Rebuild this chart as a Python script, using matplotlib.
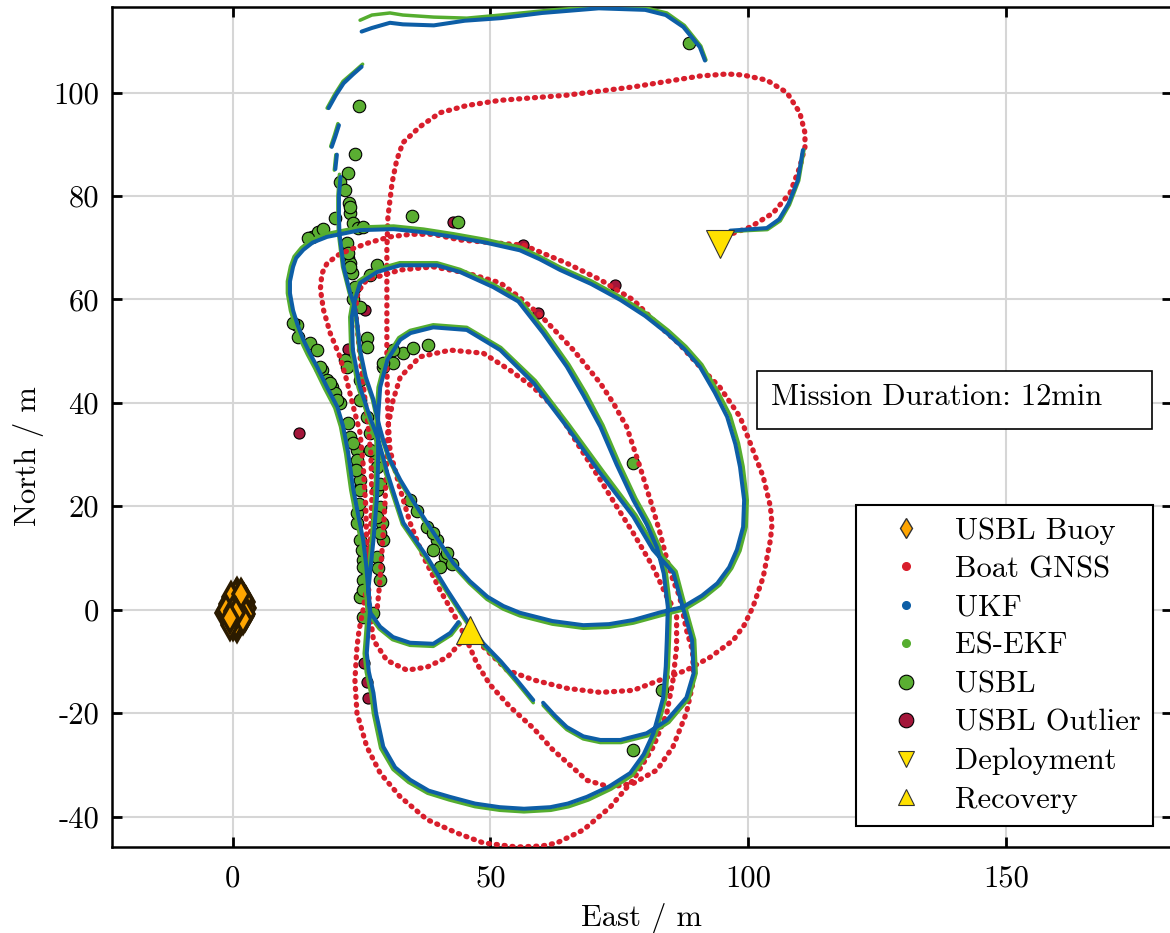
import numpy as np
import matplotlib as mpl
import matplotlib.pyplot as plt
from matplotlib.lines import Line2D
from matplotlib.patches import Rectangle

mpl.rcParams["font.family"] = "serif"
mpl.rcParams["font.serif"] = ["cmr10"]
mpl.rcParams["mathtext.fontset"] = "cm"
mpl.rcParams["axes.unicode_minus"] = False
mpl.rcParams["axes.formatter.use_mathtext"] = False

# ---- data (East, North) in metres ----
buoy_east = [0.9, 1.8, 2.5, 1.2, -0.4, 2.1, 2.8, 0.5, -1.0, 1.5, 0.0, 2.4, 1.0, -1.6,
             0.3, 2.2, 0.8, -0.7, 0.2, 1.6, -1.2, 1.3, 0.6, -0.2, 1.9, 0.4, -0.9, 2.6,
             1.1, -0.3, 0.7, 1.7, -1.4, 0.1, 2.0, -0.6, 0.6, -0.5]
buoy_north = [3.3, 2.6, 1.4, 0.9, 1.9, -0.3, 0.4, -1.2, 0.3, -2.0, -3.0, -1.2, 2.5, -0.6,
              0.8, 2.1, -3.4, -1.8, -2.5, 0.1, -1.3, 1.6, 2.9, -1.0, 0.6, 1.2, 1.0, -0.8,
              -0.4, 2.4, -2.6, 3.0, 0.0, -0.2, -1.9, -2.9, -0.7, -1.6]

gnss_a = [(97.1, 72.8), (100.4, 74.0), (104.8, 76.7), (108.1, 80.6), (110.0, 85.6), (111.0, 89.5),
          (111.0, 92.2), (110.0, 96.1), (107.5, 100.0), (103.6, 102.4), (99.0, 103.4), (95.9, 103.6),
          (90.6, 103.2), (77.7, 101.1), (64.8, 99.5), (57.0, 98.9), (51.8, 98.5), (45.4, 97.5),
          (40.2, 96.1), (36.3, 93.4), (33.0, 90.3), (31.8, 86.9), (30.9, 82.5), (30.1, 75.9),
          (29.9, 69.6), (29.9, 59.9), (29.9, 46.9), (30.1, 37.3), (30.5, 31.0), (31.1, 28.5),
          (32.5, 23.2), (34.4, 16.8), (37.0, 10.2), (40.2, 3.8), (43.5, -2.0), (45.4, -5.9),
          (47.4, -10.5), (49.9, -14.5), (53.8, -18.8), (58.4, -23.0), (62.0, -27.0), (64.8, -29.5),
          (68.7, -33.0), (73.2, -34.3), (77.7, -33.6), (82.3, -31.0), (85.4, -26.5), (88.0, -20.0),
          (89.4, -13.6), (89.2, -8.0), (88.0, -3.9), (86.7, 2.5), (85.4, 5.7), (84.4, 9.0),
          (82.9, 14.8), (81.0, 21.2), (79.0, 27.6), (76.4, 35.4), (73.8, 40.0), (71.3, 43.8),
          (66.1, 50.2), (62.5, 54.0), (59.6, 57.0), (55.5, 60.5), (51.9, 63.2), (45.4, 65.1),
          (38.9, 66.3), (32.5, 65.7), (28.5, 64.5), (26.0, 63.8), (24.3, 61.5), (23.8, 58.0),
          (24.2, 54.0), (24.8, 48.0), (25.5, 42.0), (26.2, 36.0), (26.8, 30.0), (27.0, 22.0),
          (26.7, 14.0), (26.2, 6.0), (25.3, 0.0), (24.5, -4.0), (24.1, -7.2), (23.7, -13.6),
          (24.1, -20.0), (26.0, -26.5), (28.6, -31.6), (32.5, -36.2), (37.7, -40.6), (43.5, -43.2),
          (48.6, -45.1), (55.1, -45.9), (60.0, -45.7), (62.9, -45.1), (68.0, -42.6), (73.2, -38.2),
          (77.7, -32.9), (81.6, -26.5), (84.2, -20.0), (85.4, -13.6), (86.1, -7.2), (86.1, -0.6),
          (84.2, 2.5), (81.5, 8.3), (77.7, 14.8), (74.5, 19.9), (71.3, 25.1), (66.8, 32.2),
          (62.9, 38.6), (58.3, 43.0), (53.8, 46.3), (48.6, 49.6), (42.2, 50.2), (36.3, 48.9),
          (32.5, 45.0), (31.1, 40.5), (30.1, 35.3), (29.9, 29.0), (29.5, 20.0), (29.0, 12.0),
          (28.5, 5.0), (28.0, 0.0)]
gnss_b = [(47.0, -5.5), (44.1, -6.5), (41.6, -9.2), (37.7, -11.1), (33.8, -11.7), (29.9, -9.8),
          (27.3, -5.9), (26.6, -0.6), (26.3, 5.0), (26.0, 12.0), (25.8, 20.0), (25.3, 28.0),
          (24.7, 34.2), (23.4, 39.2), (22.1, 44.4), (20.8, 48.9), (18.9, 53.5), (17.6, 58.0),
          (17.0, 62.0), (17.3, 65.0), (18.3, 67.0), (20.5, 68.6), (22.7, 69.6), (26.5, 71.0),
          (30.5, 72.1), (34.5, 72.6), (38.9, 72.6), (44.1, 71.5), (50.0, 71.0), (56.4, 70.5),
          (60.5, 68.8), (64.8, 67.0), (71.3, 63.8), (77.7, 59.9), (82.9, 54.7), (86.5, 51.5),
          (90.6, 47.0), (94.5, 43.0), (98.4, 37.3), (100.9, 30.9), (102.9, 25.7), (104.3, 19.9),
          (104.6, 16.5), (104.3, 13.5), (102.9, 6.3), (100.9, 0.5), (99.2, -3.0), (97.1, -5.9),
          (92.6, -9.2), (88.0, -11.7), (82.9, -13.6), (77.7, -15.6), (71.3, -16.0), (64.8, -15.2),
          (58.4, -13.6), (53.2, -11.7), (51.9, -10.4), (48.6, -7.2), (47.0, -5.5)]

ukf_deploy = [(96.5, 73.3), (99.5, 73.5), (103.6, 73.8), (106.0, 75.5), (107.8, 78.5),
              (109.6, 83.0), (110.6, 88.9)]
ukf_top = [(91.6, 106.2), (90.6, 108.8), (87.4, 112.7), (84.0, 115.0), (80.0, 116.0), (71.0, 116.3),
           (60.0, 115.4), (52.0, 114.4), (45.0, 113.9), (39.0, 113.0), (33.0, 113.2), (30.5, 113.5),
           (27.0, 112.5), (25.0, 111.8)]
ukf_dash1 = [(25.0, 105.0), (23.3, 103.5), (21.5, 101.8), (20.0, 99.5), (18.6, 97.0)]
ukf_dash2 = [(20.6, 93.7), (19.9, 91.5), (19.2, 89.5)]
ukf_dash3 = [(20.2, 88.0), (19.9, 85.2)]
ukf_main = [(20.9, 83.7), (20.6, 80.0), (20.6, 76.0), (20.7, 72.8), (21.5, 66.3), (22.8, 61.2),
            (23.7, 58.6), (24.2, 55.0), (24.7, 50.2), (25.8, 45.0), (27.3, 40.6), (28.3, 36.0),
            (29.2, 32.8), (30.5, 29.0), (32.5, 25.1), (35.0, 21.0), (37.7, 16.8), (40.3, 12.8),
            (42.8, 9.0), (46.0, 5.5), (49.4, 2.5), (52.5, 0.7), (55.7, -0.6), (62.0, -2.2),
            (68.0, -3.0), (73.0, -2.8), (77.7, -2.0), (83.0, -0.5), (87.3, 0.5), (91.0, 2.7),
            (94.0, 5.1), (96.3, 8.2), (97.8, 11.6), (99.0, 16.0), (99.2, 21.2), (98.4, 27.6),
            (97.5, 32.0), (95.9, 37.3), (93.5, 42.0), (90.6, 47.0), (87.5, 50.5), (84.2, 53.5),
            (80.0, 56.8), (75.2, 59.9), (69.5, 63.0), (63.5, 65.7), (59.5, 67.8), (55.7, 69.5),
            (49.0, 71.0), (42.8, 72.1), (37.0, 73.0), (31.2, 73.6), (24.7, 73.4), (18.3, 72.1),
            (15.5, 71.0), (13.7, 69.6), (12.3, 68.0), (11.7, 66.3), (11.1, 63.5), (11.1, 61.2),
            (11.7, 57.9), (12.6, 55.0), (13.7, 52.2), (15.0, 49.5), (16.4, 46.9), (18.3, 43.0),
            (20.3, 39.2), (21.4, 35.5), (22.4, 30.3), (23.4, 23.2), (24.4, 18.0), (25.3, 13.5),
            (25.9, 8.5), (26.3, 3.8), (26.6, -0.6), (26.3, -4.5), (26.0, -8.4), (26.4, -12.0),
            (27.3, -16.1), (27.8, -20.0), (29.2, -26.5), (31.5, -30.5), (34.4, -32.9), (38.0, -35.0),
            (42.1, -36.2), (47.0, -37.5), (51.8, -38.2), (56.5, -38.5), (61.6, -38.2), (65.0, -37.5),
            (68.7, -36.2), (73.0, -34.2), (77.1, -31.6), (79.7, -28.0), (81.6, -23.9), (83.5, -17.0),
            (84.0, -11.0), (84.2, -5.9), (84.4, 0.5), (83.6, 7.0), (82.3, 12.0), (80.3, 16.5),
            (77.7, 21.2), (74.5, 28.0), (71.3, 35.4), (68.0, 41.5), (64.8, 47.0), (60.2, 53.5),
            (55.4, 59.6), (50.5, 62.4), (44.1, 65.3), (39.6, 66.6), (32.5, 66.6), (28.0, 65.3),
            (24.7, 63.2), (23.7, 59.9), (23.1, 56.6), (23.3, 50.2), (24.7, 43.0), (26.6, 37.3),
            (28.2, 33.0), (30.0, 26.4), (33.1, 16.8), (37.7, 10.2), (41.6, 3.8), (45.4, -2.0),
            (48.6, -6.5), (52.0, -10.0), (55.1, -13.6), (58.3, -17.5)]
ukf_end = [(60.2, -18.0), (62.5, -20.5), (64.8, -22.7), (68.0, -24.5), (71.3, -25.2), (75.2, -25.2),
           (80.3, -23.9), (84.2, -21.4), (88.0, -17.0), (89.4, -12.3), (89.1, -5.9), (86.9, 1.9),
           (85.5, 7.1), (81.5, 11.6), (77.7, 18.0), (71.3, 26.4), (64.8, 35.4), (58.4, 43.8),
           (51.9, 50.2), (45.4, 54.1), (38.9, 54.6), (34.5, 53.5), (32.5, 52.2), (30.0, 48.3),
           (28.6, 43.0), (28.2, 37.3), (28.2, 29.0), (28.0, 22.0), (27.3, 13.5), (26.3, 3.8),
           (26.7, -0.6), (28.6, -3.3), (31.1, -5.3), (34.4, -6.4), (38.9, -6.6), (42.2, -4.5),
           (43.8, -2.4)]

ekf_deploy = [(96.5, 73.1), (99.5, 73.3), (103.7, 73.5), (106.2, 75.2), (108.0, 78.3),
              (109.8, 83.0), (110.8, 88.9)]
ekf_top = [(91.8, 106.3), (90.8, 109.0), (87.6, 113.0), (84.2, 115.4), (80.0, 116.4), (71.0, 116.6),
           (62.0, 116.0), (56.0, 115.4), (52.0, 115.0), (45.4, 114.4), (39.0, 114.6), (33.0, 115.0),
           (30.5, 115.4), (27.0, 115.0), (24.7, 114.0)]
ekf_dash1 = [(25.2, 105.5), (23.5, 104.0), (21.4, 102.2), (19.8, 99.7), (18.3, 97.0)]
ekf_dash2 = [(20.4, 94.0), (19.7, 91.7), (19.0, 89.6)]
ekf_dash3 = [(20.0, 88.0), (19.7, 85.0)]
ekf_main = [(20.7, 84.2), (20.4, 80.0), (20.4, 76.0), (20.5, 72.8), (21.3, 66.3), (22.6, 61.2),
            (23.5, 58.6), (24.0, 55.0), (24.5, 50.2), (25.6, 45.0), (27.1, 40.6), (28.1, 36.0),
            (29.0, 32.8), (30.3, 29.0), (32.4, 24.8), (34.9, 20.6), (37.6, 16.4), (40.2, 12.4),
            (42.7, 8.6), (45.9, 5.1), (49.3, 2.0), (52.5, 0.1), (55.7, -1.2), (62.0, -2.8),
            (68.0, -3.6), (73.0, -3.4), (77.7, -2.6), (83.2, -1.1), (87.6, 0.0), (91.4, 2.3),
            (94.5, 4.8), (96.8, 8.0), (98.4, 11.4), (99.6, 16.0), (99.8, 21.2), (99.0, 27.7),
            (98.1, 32.2), (96.5, 37.6), (94.0, 42.4), (91.0, 47.4), (87.9, 50.9), (84.5, 54.0),
            (80.3, 57.3), (75.4, 60.4), (69.7, 63.5), (63.6, 66.2), (59.6, 68.3), (55.8, 70.1),
            (49.0, 71.6), (42.8, 72.7), (37.0, 73.6), (31.2, 74.2), (24.7, 74.0), (18.1, 72.7),
            (15.2, 71.5), (13.3, 70.0), (11.9, 68.3), (11.2, 66.4), (10.6, 63.5), (10.6, 61.2),
            (11.2, 57.8), (12.1, 54.9), (13.2, 52.0), (14.5, 49.3), (15.9, 46.7), (17.8, 42.8),
            (19.8, 39.0), (20.9, 35.4), (21.9, 30.2), (22.9, 23.1), (23.9, 17.9), (24.8, 13.4),
            (25.4, 8.4), (25.8, 3.7), (26.1, -0.7), (25.8, -4.6), (25.5, -8.5), (25.9, -12.1),
            (26.8, -16.3), (27.3, -20.2), (28.7, -26.8), (31.1, -30.9), (34.1, -33.4), (37.8, -35.5),
            (42.0, -36.8), (47.0, -38.1), (51.8, -38.8), (56.5, -39.1), (61.7, -38.8), (65.2, -38.1),
            (69.0, -36.8), (73.4, -34.7), (77.6, -32.0), (80.2, -28.3), (82.1, -24.1), (84.0, -17.1),
            (84.5, -11.0), (84.7, -5.9), (84.9, 0.5), (84.1, 7.1), (82.8, 12.2), (80.8, 16.8),
            (78.2, 21.5), (75.0, 28.3), (71.8, 35.7), (68.5, 41.9), (65.2, 47.4), (60.6, 53.9),
            (55.6, 60.1), (50.6, 62.9), (44.1, 65.8), (39.6, 67.1), (32.4, 67.1), (27.8, 65.8),
            (24.4, 63.6), (23.3, 60.1), (22.7, 56.6), (22.9, 50.2), (24.3, 43.0), (26.2, 37.3),
            (27.8, 33.0), (29.7, 26.2), (32.9, 16.5), (37.5, 9.8), (41.5, 3.4), (45.3, -2.4),
            (48.6, -7.0), (52.0, -10.5), (55.1, -14.1), (58.3, -18.0)]
ekf_end = [(60.2, -18.5), (62.5, -21.0), (64.8, -23.2), (68.0, -25.0), (71.3, -25.7), (75.3, -25.7),
           (80.5, -24.4), (84.6, -21.8), (88.5, -17.2), (89.9, -12.3), (89.6, -5.8), (87.4, 2.1),
           (86.0, 7.4), (82.0, 11.9), (78.2, 18.3), (71.8, 26.8), (65.2, 35.8), (58.7, 44.3),
           (52.0, 50.7), (45.4, 54.6), (38.9, 55.1), (34.4, 54.0), (32.2, 52.6), (29.6, 48.5),
           (28.2, 43.0), (27.8, 37.3), (27.8, 29.0), (27.6, 22.0), (26.9, 13.5), (25.9, 3.8),
           (26.3, -0.9), (28.4, -3.7), (31.0, -5.8), (34.4, -6.9), (38.9, -7.1), (42.4, -4.9),
           (44.1, -2.7)]

usbl = [(88.5, 109.6), (24.5, 97.4), (23.7, 88.2), (22.4, 84.5), (20.8, 82.7), (21.8, 81.2),
        (22.6, 78.6), (22.7, 76.7), (19.8, 75.7), (23.3, 74.8), (24.3, 73.9), (25.3, 74.0),
        (15.4, 72.1), (16.5, 73.0), (17.5, 73.6), (14.6, 71.8), (22.4, 68.0), (28.0, 66.6),
        (22.7, 67.1), (23.1, 65.1), (23.7, 62.4), (23.3, 60.0), (12.5, 55.1), (34.8, 76.1),
        (43.7, 75.0), (22.7, 77.9), (22.1, 70.9), (22.4, 69.0), (22.7, 66.3), (26.6, 64.7),
        (24.7, 58.5), (12.7, 52.8), (15.0, 51.6), (16.3, 50.2), (21.8, 48.3), (22.1, 46.9),
        (26.0, 52.6), (26.0, 50.8), (29.2, 46.9), (31.1, 47.7), (33.0, 49.7), (35.0, 50.6),
        (37.9, 51.2), (17.3, 46.4), (18.3, 44.4), (19.3, 43.0), (20.8, 39.9), (19.8, 41.9),
        (22.4, 36.1), (22.7, 33.4), (24.7, 44.4), (24.7, 40.5), (26.0, 37.3), (26.6, 34.2),
        (24.1, 30.9), (27.6, 30.3), (23.3, 32.2), (24.1, 29.0), (24.7, 25.1), (24.1, 16.8),
        (24.7, 13.5), (25.3, 9.6), (25.3, 5.7), (24.7, 2.5), (25.3, -1.4), (27.2, -0.6),
        (28.0, 23.2), (28.6, 19.9), (29.0, 16.8), (29.2, 13.5), (28.0, 10.2), (28.6, 5.7),
        (34.4, 21.2), (37.7, 16.0), (39.6, 13.5), (41.2, 10.2), (40.2, 8.3), (38.9, 11.5),
        (26.6, 30.9), (28.0, 27.6), (83.3, -15.6), (77.7, -27.1), (77.7, 28.4), (11.7, 55.4),
        (17.0, 46.9), (18.9, 43.8), (20.2, 40.5), (24.7, 23.2), (24.1, 18.6), (25.3, 8.3),
        (25.3, 3.8), (28.6, 24.4), (28.0, 18.0), (28.6, 14.8), (41.6, 10.9), (38.9, 14.8),
        (31.1, 50.2), (29.2, 47.7), (24.5, 20.5), (25.0, 11.5), (28.2, 8.0), (24.0, 27.0),
        (35.8, 19.0), (42.5, 8.8)]
usbl_outlier = [(12.8, 34.2), (22.4, 50.4), (25.4, -10.4), (26.0, -14.0), (26.3, -17.1),
                (42.8, 75.0), (56.4, 70.5), (74.2, 62.8), (59.2, 57.4), (25.7, 57.9), (24.7, 23.7)]

deploy_east, deploy_north = [94.5], [70.8]
recover_east, recover_north = [46.0], [-4.0]

labels = ["USBL Buoy", "Boat GNSS", "UKF", "ES-EKF", "USBL", "USBL Outlier",
          "Deployment", "Recovery"]
x_ticks = [0, 50, 100, 150]
y_ticks = [-40, -20, 0, 20, 40, 60, 80, 100]

RED = "#d81e2c"
BLUE = "#0d5ea6"
GREEN = "#55ad2f"
USBL_GREEN = "#5aae32"
OUTLIER = "#a3163a"
ORANGE = "#ffa500"
YELLOW = "#ffe100"


def join(*segs):
    # NaN between segments so the gaps in the track stay open
    e, n = [], []
    for s in segs:
        e += [p[0] for p in s] + [np.nan]
        n += [p[1] for p in s] + [np.nan]
    return np.array(e), np.array(n)


gnss_e, gnss_n = join(gnss_a, gnss_b)
ukf_e, ukf_n = join(ukf_deploy, ukf_top, ukf_dash1, ukf_dash2, ukf_dash3, ukf_main, ukf_end)
ekf_e, ekf_n = join(ekf_deploy, ekf_top, ekf_dash1, ekf_dash2, ekf_dash3, ekf_main, ekf_end)
usbl_e, usbl_n = join(usbl)
out_e, out_n = join(usbl_outlier)

fig = plt.figure(figsize=(11.7, 9.33), dpi=100)
ax = fig.add_axes([0.0955, 0.0925, 0.9058, 0.8997])

ax.plot(buoy_east, buoy_north, ls="none", marker="d", ms=14, mfc=ORANGE,
        mec="#2b1b00", mew=2.6, zorder=3)
ax.plot(out_e, out_n, ls="none", marker="o", ms=8, mfc=OUTLIER, mec="black",
        mew=0.8, zorder=3)
ax.plot(usbl_e, usbl_n, ls="none", marker="o", ms=9, mfc=USBL_GREEN, mec="black",
        mew=0.8, zorder=3.1)
ax.plot(gnss_e, gnss_n, color=RED, lw=3.8, ls=(0, (0.2, 1.3)),
        dash_capstyle="round", zorder=4)
ax.plot(ekf_e, ekf_n, color=GREEN, lw=2.5, solid_capstyle="round",
        solid_joinstyle="round", zorder=5)
ax.plot(ukf_e, ukf_n, color=BLUE, lw=2.9, solid_capstyle="round",
        solid_joinstyle="round", zorder=6)
ax.plot(deploy_east, deploy_north, ls="none", marker="v", ms=20, mfc=YELLOW,
        mec="#333333", mew=0.8, zorder=7)
ax.plot(recover_east, recover_north, ls="none", marker="^", ms=20, mfc=YELLOW,
        mec="#333333", mew=0.8, zorder=7)

ax.set_xlim(-23.47, 182.1)
ax.set_ylim(-45.84, 116.5)
ax.set_xticks(x_ticks)
ax.set_yticks(y_ticks)
ax.grid(True, color="#d6d6d6", lw=1.5)
ax.set_axisbelow(True)
ax.tick_params(direction="in", length=7, width=2.0, top=True, right=True, labelsize=22)
ax.tick_params(axis="x", pad=13)
ax.tick_params(axis="y", pad=9)
for sp in ax.spines.values():
    sp.set_linewidth(1.8)

ax.set_xlabel("East / m", fontsize=22)
ax.set_ylabel("North / m", fontsize=22)
ax.xaxis.set_label_coords(0.5, -0.0665)
ax.yaxis.set_label_coords(-0.064, 0.4654)

# mission duration box
ax.add_patch(Rectangle((0.6089, 0.4976), 0.3727, 0.0691, transform=ax.transAxes,
                       fc="white", ec="black", lw=1.2, zorder=8))
ax.text(0.6221, 0.5262, "Mission Duration: 12min", transform=ax.transAxes,
        fontsize=22, ha="left", va="baseline", zorder=9)

handles = [
    Line2D([], [], ls="none", marker="d", ms=10, mfc=ORANGE, mec="#333333", mew=1.0),
    Line2D([], [], ls="none", marker="o", ms=5.5, mfc=RED, mec=RED),
    Line2D([], [], ls="none", marker="o", ms=5.5, mfc=BLUE, mec=BLUE),
    Line2D([], [], ls="none", marker="o", ms=5.5, mfc=GREEN, mec=GREEN),
    Line2D([], [], ls="none", marker="o", ms=10.5, mfc=USBL_GREEN, mec="black", mew=0.8),
    Line2D([], [], ls="none", marker="o", ms=10.5, mfc=OUTLIER, mec="black", mew=0.8),
    Line2D([], [], ls="none", marker="v", ms=11, mfc=YELLOW, mec="#333333", mew=0.8),
    Line2D([], [], ls="none", marker="^", ms=11, mfc=YELLOW, mec="#333333", mew=0.8),
]
leg = ax.legend(handles, labels, loc="lower right", bbox_to_anchor=(0.9825, 0.0247),
                borderaxespad=0, fontsize=22, labelspacing=0.36, handlelength=2.5,
                handletextpad=0.35, borderpad=0.4, fancybox=False, framealpha=1)
leg.get_frame().set_edgecolor("black")
leg.get_frame().set_linewidth(1.5)
leg.set_zorder(10)

fig.savefig("out.png", dpi=100)
